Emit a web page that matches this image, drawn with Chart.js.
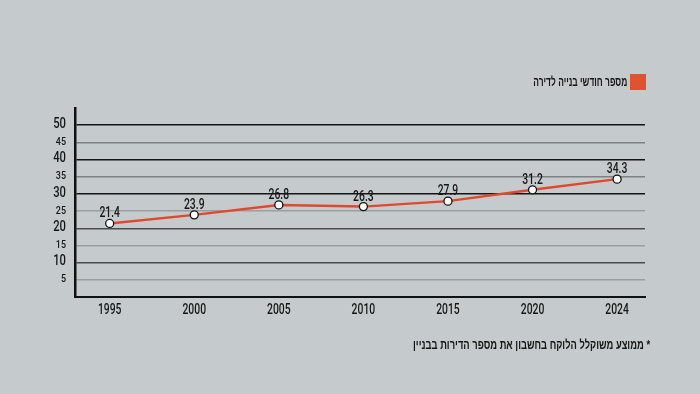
<!DOCTYPE html>
<html>
<head>
<meta charset="utf-8">
<script src="https://cdn.jsdelivr.net/npm/chart.js@4"></script>
<style>
html,body{margin:0;padding:0;background:#c5cbcc;}
#wrap{width:700px;height:394px;position:relative;overflow:hidden;}
canvas{position:absolute;left:0;top:0;}
.htxt{position:absolute;font-family:'Liberation Sans','DejaVu Sans',sans-serif;font-weight:bold;color:#161616;white-space:nowrap;
  direction:rtl;unicode-bidi:bidi-override;transform-origin:100% 50%;}
#legendBox{position:absolute;left:630px;top:74px;width:16px;height:16px;background:#e0532f;}
#legendText{right:73px;top:74px;font-size:13px;line-height:16px;}
#foot{right:50px;top:337px;font-size:13px;line-height:16px;}
</style>
</head>
<body>
<div id="wrap">
<canvas id="c" width="700" height="394"></canvas>
<div id="legendBox"></div>
<div id="legendText" class="htxt"></div>
<div id="foot" class="htxt"></div>
</div>
<script>
const years = ['1995','2000','2005','2010','2015','2020','2024'];
const months = [21.4, 23.9, 26.8, 26.3, 27.9, 31.2, 34.3];
const yTicks = [5, 10, 15, 20, 25, 30, 35, 40, 45, 50];
const seriesLabel = 'מספר חודשי בנייה לדירה';
const footnote = '* ממוצע משוקלל הלוקח בחשבון את מספר הדירות בבניין';

function fitText(id, text, targetWidth) {
  const el = document.getElementById(id);
  el.textContent = text;
  const w = el.getBoundingClientRect().width;
  if (w > 0) el.style.transform = 'scaleX(' + (targetWidth / w) + ')';
}
fitText('legendText', seriesLabel, 94);
fitText('foot', footnote, 237);

const FAMILY = "Roboto, 'Liberation Sans', sans-serif";
const WEIGHT = '500';
const RED = '#e0492c';

function drawSquashed(ctx, text, x, y, size, sx, align, baseline) {
  ctx.save();
  ctx.font = WEIGHT + ' ' + size + 'px ' + FAMILY;
  ctx.textAlign = align;
  ctx.textBaseline = baseline || 'middle';
  ctx.translate(x, y);
  ctx.scale(sx, 1);
  ctx.fillText(text, 0, 0);
  ctx.restore();
}

const labelsPlugin = {
  id: 'squashedLabels',
  afterDraw(chart) {
    const ctx = chart.ctx;
    ctx.save();
    ctx.fillStyle = '#161616';
    const ys = chart.scales.y;
    yTicks.forEach(v => {
      const py = ys.getPixelForValue(v);
      if (v % 10 === 0) drawSquashed(ctx, String(v), 66, py - 1, 15, 0.75, 'right');
      else drawSquashed(ctx, String(v), 66, py, 10.5, 0.85, 'right');
    });
    const xs = chart.scales.x;
    years.forEach((yr, i) => {
      drawSquashed(ctx, yr, xs.getPixelForValue(i), 310.5, 14, 0.74, 'center');
    });
    const meta = chart.getDatasetMeta(0);
    meta.data.forEach((pt, i) => {
      drawSquashed(ctx, months[i].toFixed(1), pt.x, pt.y - 6, 14, 0.74, 'center', 'alphabetic');
    });
    ctx.restore();
  }
};

function gridColor(v) {
  if (v === 30 || v === 40 || v === 50) return '#151515';
  if (v === 10 || v === 20) return '#4a4d4f';
  if (v === 25 || v === 15 || v === 5) return '#9aa0a2';
  if (v === 35 || v === 45) return '#7d8284';
  return 'rgba(0,0,0,0)';
}

new Chart(document.getElementById('c'), {
  type: 'line',
  data: {
    datasets: [{
      label: seriesLabel,
      data: years.map((y, i) => ({ x: i, y: months[i] })),
      borderColor: RED,
      backgroundColor: RED,
      borderWidth: 2.5,
      tension: 0,
      pointRadius: 4,
      pointBackgroundColor: '#ffffff',
      pointBorderColor: '#111',
      pointBorderWidth: 1.3
    }]
  },
  options: {
    responsive: false,
    animation: false,
    devicePixelRatio: 1,
    layout: { padding: { left: 0, right: 55, top: 108, bottom: 73 } },
    plugins: {
      legend: { display: false },
      tooltip: { enabled: false }
    },
    scales: {
      x: {
        type: 'linear',
        min: -0.41,
        max: 6.33,
        grid: { display: false, drawTicks: false },
        border: { display: true, color: '#111', width: 2 },
        ticks: {
          stepSize: 1,
          includeBounds: false,
          color: 'rgba(0,0,0,0)',
          font: { family: FAMILY, size: 13 },
          callback(v) { return Number.isInteger(v) && years[v] ? years[v] : ''; }
        },
        afterFit(scale) { scale.height = 24; }
      },
      y: {
        min: 0,
        max: 55,
        ticks: {
          stepSize: 5,
          autoSkip: false,
          color: 'rgba(0,0,0,0)',
          font: { family: FAMILY, size: 11 },
          callback(v) { return (v === 0 || v === 55) ? '' : String(v); }
        },
        grid: {
          drawTicks: false,
          lineWidth(ctx) {
            const v = ctx.tick && ctx.tick.value;
            return (v === 30 || v === 40 || v === 50) ? 1.6 : 1.4;
          },
          color(ctx) { return gridColor(ctx.tick && ctx.tick.value); }
        },
        border: { display: true, color: '#111', width: 2.5 },
        afterFit(scale) { scale.width = 75; }
      }
    }
  },
  plugins: [labelsPlugin]
});
</script>
</body>
</html>
